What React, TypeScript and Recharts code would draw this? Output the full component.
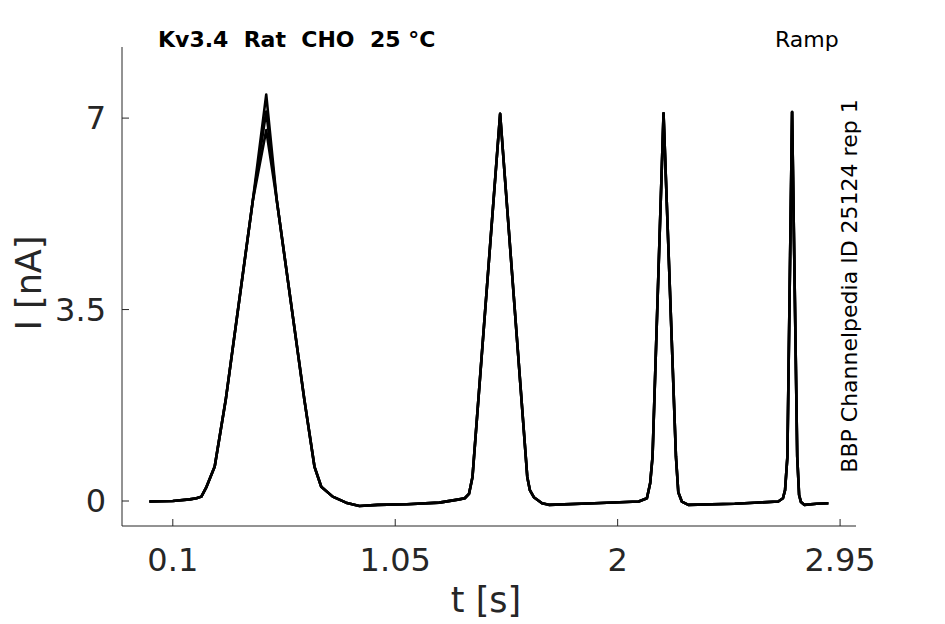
import React from 'react';
import { LineChart, Line, XAxis, YAxis } from 'recharts';

// time samples [s]
const timeS = [
  0, 0.1, 0.172, 0.201, 0.222, 0.244, 0.279, 0.326, 0.442, 0.499, 0.544, 0.662, 0.705, 0.734,
  0.783, 0.84, 0.897, 0.975, 1.1, 1.238, 1.323, 1.347, 1.365, 1.38, 1.498, 1.614, 1.625, 1.642,
  1.677, 1.706, 1.9, 2.09, 2.125, 2.139, 2.149, 2.196, 2.249, 2.259, 2.274, 2.302, 2.5, 2.686,
  2.706, 2.715, 2.725, 2.745, 2.767, 2.775, 2.783, 2.797, 2.85, 2.9,
];

// current [nA], shared shape of all repetitions
const currentNA = [
  -0.01, 0.0, 0.03, 0.05, 0.08, 0.26, 0.63, 1.85, 5.5, 7.43, 5.5, 1.85, 0.63, 0.26,
  0.08, -0.03, -0.09, -0.07, -0.06, -0.03, 0.03, 0.05, 0.13, 0.44, 7.08, 0.44, 0.2, 0.07,
  -0.04, -0.07, -0.04, -0.01, 0.05, 0.33, 0.81, 7.09, 0.81, 0.16, -0.01, -0.07, -0.05, -0.01,
  0.05, 0.2, 0.81, 7.11, 0.81, 0.11, -0.02, -0.07, -0.05, -0.04,
];

// the repetitions differ at the top of the first (slow) ramp
const firstPeakIndex = 9;
const firstPeakByRep = [7.43, 7.12, 6.78];
const repKeys = ['rep1', 'rep2', 'rep3'];

const xTicks = [0.1, 1.05, 2, 2.95];
const yTicks = [0, 3.5, 7];

const data = timeS.map((t, i) => {
  const row: { [key: string]: number } = { t };
  repKeys.forEach((key, r) => {
    row[key] = i === firstPeakIndex ? firstPeakByRep[r] : currentNA[i];
  });
  return row;
});

const font = 'DejaVu Sans, sans-serif';
const axisColor = '#262626';

const App: React.FC = () => {
  return (
    <div style={{ position: 'absolute', left: 0, top: 0, width: 945, height: 624, background: '#fff' }}>
      <LineChart width={945} height={624} data={data} margin={{ top: 47, right: 89, bottom: 38, left: 42 }}>
        <XAxis
          dataKey="t"
          type="number"
          domain={[-0.117, 3.018]}
          ticks={xTicks}
          allowDataOverflow
          height={60}
          tickSize={-7}
          tickMargin={29}
          axisLine={{ stroke: axisColor, strokeWidth: 1 }}
          tickLine={{ stroke: axisColor, strokeWidth: 1 }}
          tick={{ fill: axisColor, fontSize: 32, fontFamily: font }}
        />
        <YAxis
          type="number"
          domain={[-0.457, 8.3]}
          ticks={yTicks}
          allowDataOverflow
          width={80}
          tickSize={-7}
          tickMargin={23}
          axisLine={{ stroke: axisColor, strokeWidth: 1 }}
          tickLine={{ stroke: axisColor, strokeWidth: 1 }}
          tick={{ fill: axisColor, fontSize: 32, fontFamily: font }}
        />
        {repKeys.map(key => (
          <Line
            key={key}
            dataKey={key}
            type="linear"
            stroke="#000"
            strokeWidth={2.6}
            strokeLinejoin="round"
            dot={false}
            isAnimationActive={false}
          />
        ))}
      </LineChart>
      <svg
        width={945}
        height={624}
        style={{ position: 'absolute', left: 0, top: 0, pointerEvents: 'none' }}
        fontFamily={font}
      >
        <text x={158} y={47} fontSize={22} fontWeight="bold" fill="#000" xmlSpace="preserve" style={{ whiteSpace: 'pre' }}>
          {'Kv3.4  Rat  CHO  25 °C'}
        </text>
        <text x={775} y={47} fontSize={22} fill="#000">Ramp</text>
        <text x={857} y={286} fontSize={22} fill="#000" textAnchor="middle" transform="rotate(-90 857 286)">
          BBP Channelpedia ID 25124 rep 1
        </text>
        <text x={41} y={283} fontSize={35} fill={axisColor} textAnchor="middle" transform="rotate(-90 41 283)">
          I [nA]
        </text>
        <text x={486} y={612} fontSize={35} fill={axisColor} textAnchor="middle">
          t [s]
        </text>
      </svg>
    </div>
  );
};

export default App;
